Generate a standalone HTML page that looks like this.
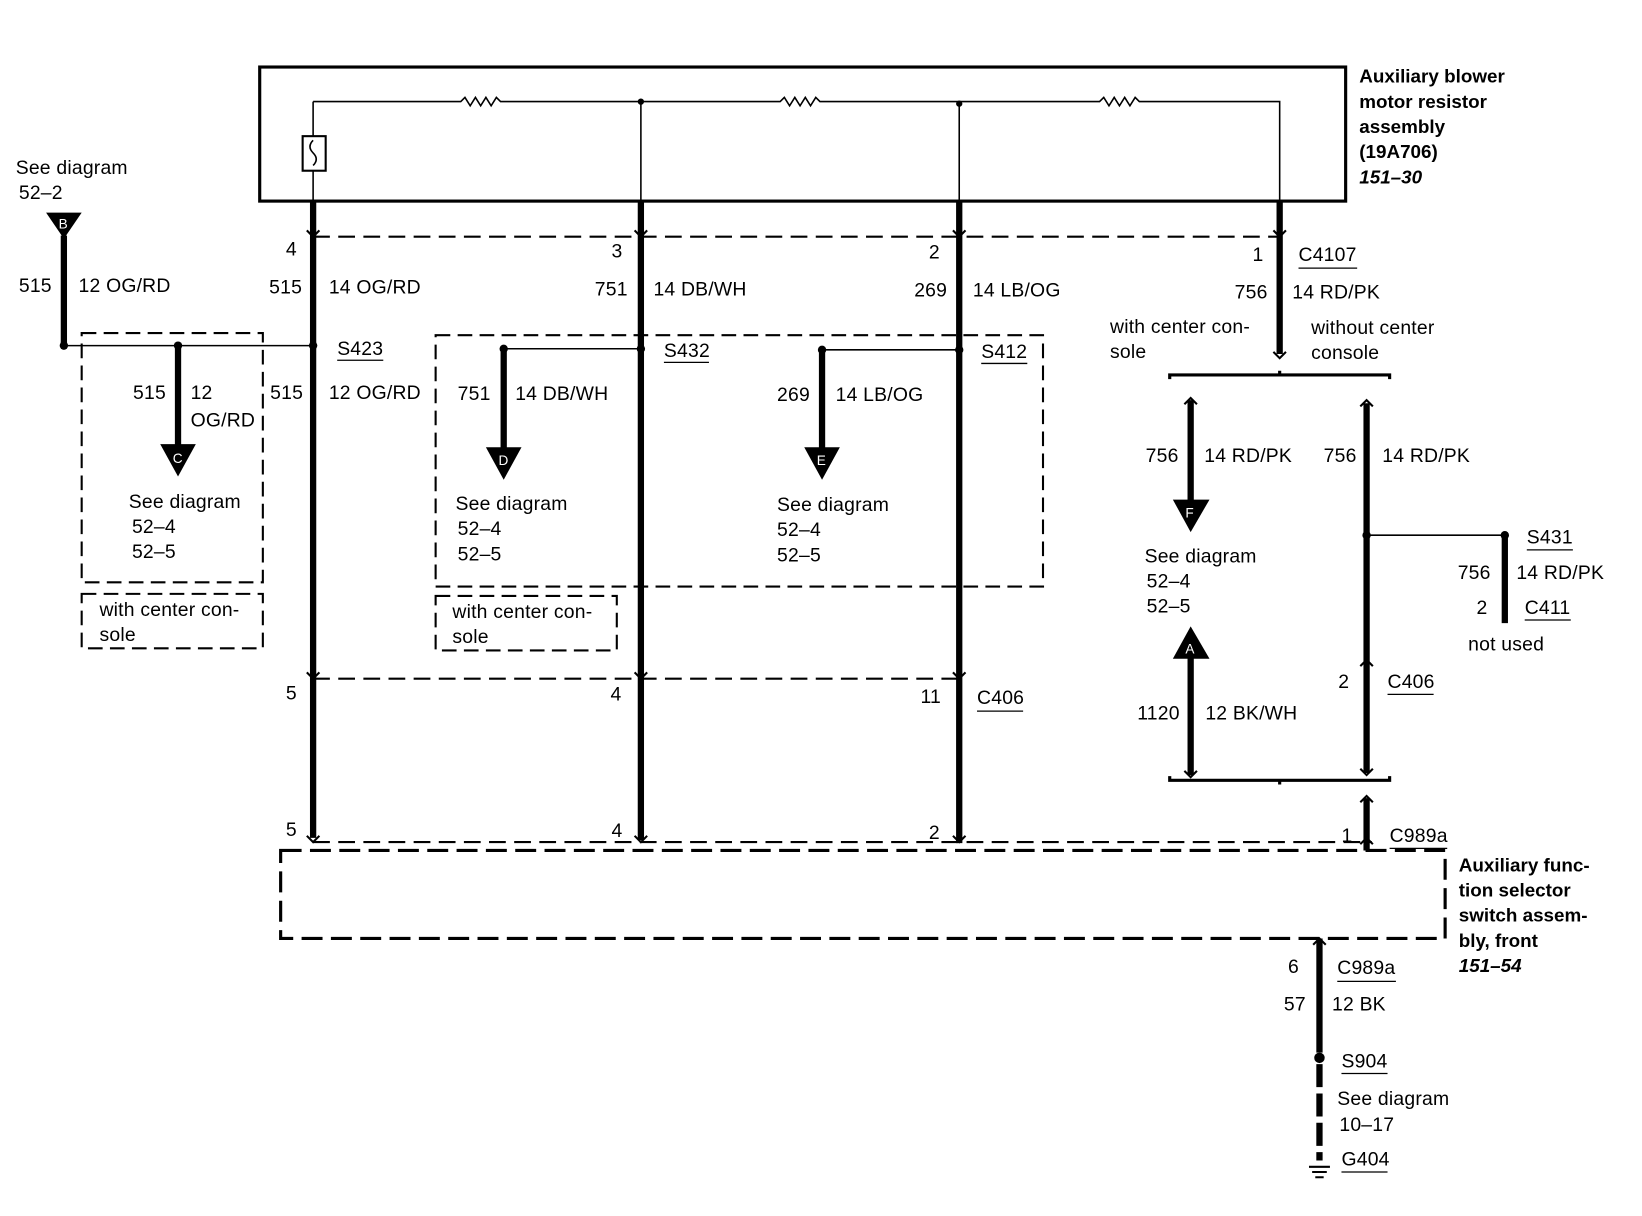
<!DOCTYPE html>
<html><head><meta charset="utf-8"><style>
html,body{margin:0;padding:0;background:#fff;}
svg{display:block;}
text{font-family:"Liberation Sans",sans-serif;font-size:18.5px;letter-spacing:0.2px;fill:#000;}
.b{font-weight:bold;font-size:18px;letter-spacing:0;}
.i{font-weight:bold;font-style:italic;font-size:18px;letter-spacing:0;}
</style></head><body>
<svg width="1642" height="1216" viewBox="0 0 1568 1161" preserveAspectRatio="none" xmlns="http://www.w3.org/2000/svg">
<g fill="none" stroke="#000">
<rect x="248" y="64" width="1037" height="128" stroke-width="3"/>
<path d="M299 97 H440 l4 -4 l5 8 l5 -8 l5 8 l5 -8 l5 8 l5 -8 l4 4 H745 l4 -4 l5 8 l5 -8 l5 8 l5 -8 l5 8 l5 -8 l4 4 H1050 l4 -4 l5 8 l5 -8 l5 8 l5 -8 l5 8 l5 -8 l4 4 H1222 V192" stroke-width="1.5"/>
<path d="M299 97 V130 M299 163 V192 M612 97 V192 M916 97 V192" stroke-width="1.5"/>
<rect x="289" y="130" width="22" height="33" stroke-width="2"/>
<path d="M299 134 q-6 6 0 12 q6 6 0 12" stroke-width="1.5"/>
<path d="M299 192 V800 M612 192 V802 M916 192 V805 M1222 192 V338 M61 225 V330 M170 330 V426 M481 333 V428 M785 334 V428 M1137 382 V478 M1137 628 V740 M1305 385 V738 M1437 511 V595 M1305 762 V812 M1260 896 V1005" stroke-width="6"/>
<path d="M1260 1016 V1108" stroke-width="6" stroke-dasharray="22 6"/>
<path d="M61 330 H299 M481 333 H612 M785 334 H916 M1305 511 H1437" stroke-width="1.5"/>
<path d="M299 226 H1222 M299 648 H916 M299 804 H1310" stroke-width="2" stroke-dasharray="16 8"/>
<rect x="78" y="318" width="173" height="238" stroke-width="2" stroke-dasharray="14 7"/>
<rect x="78" y="567" width="173" height="52" stroke-width="2" stroke-dasharray="14 7"/>
<rect x="416" y="320" width="580" height="240" stroke-width="2" stroke-dasharray="14 7"/>
<rect x="416" y="569" width="173" height="52" stroke-width="2" stroke-dasharray="14 7"/>
<rect x="268" y="812" width="1112" height="84" stroke-width="3" stroke-dasharray="20 8"/>
<path d="M1117 362 V358 H1327 V362 M1222 358 V354" stroke-width="3"/>
<path d="M1117 741 V745 H1327 V741 M1222 745 V749" stroke-width="3"/>
<path d="M293 220 l6 6 l6 -6 M606 220 l6 6 l6 -6 M910 220 l6 6 l6 -6 M1216 220 l6 6 l6 -6 M1216 336 l6 6 l6 -6 M293 642 l6 6 l6 -6 M606 642 l6 6 l6 -6 M910 642 l6 6 l6 -6 M293 798 l6 6 l6 -6 M606 798 l6 6 l6 -6 M910 798 l6 6 l6 -6 M1299 806 l6 -6 l6 6 M1131 386 l6 -6 l6 6 M1299 388 l6 -6 l6 6 M1131 736 l6 6 l6 -6 M1299 734 l6 6 l6 -6 M1299 636 l6 -6 l6 6 M1299 766 l6 -6 l6 6 M1254 902 l6 -6 l6 6" stroke-width="2"/>
<path d="M1250 1114 H1270 M1253 1119 H1267 M1256 1124 H1264" stroke-width="2"/>
</g>
<g fill="#000">
<circle cx="612" cy="97" r="3"/><circle cx="916" cy="99" r="3"/>
<circle cx="61" cy="330" r="4"/><circle cx="299" cy="330" r="4"/><circle cx="170" cy="330" r="4"/>
<circle cx="481" cy="333" r="4"/><circle cx="612" cy="333" r="4"/><circle cx="785" cy="334" r="4"/><circle cx="916" cy="334" r="4"/>
<circle cx="1305" cy="511" r="4"/><circle cx="1437" cy="511" r="4"/><circle cx="1260" cy="1010" r="5"/>
<polygon points="44,203 78,203 61,228"/>
<polygon points="153,424 187,424 170,455"/>
<polygon points="464,427 498,427 481,458"/>
<polygon points="768,427 802,427 785,458"/>
<polygon points="1120,477 1155,477 1137,508"/>
<polygon points="1120,629 1155,629 1137,598"/>
</g>
<text x="56" y="218" style="font-size:13px;fill:#fff">B</text>
<text x="165" y="442" style="font-size:13px;fill:#fff">C</text>
<text x="476" y="444" style="font-size:13px;fill:#fff">D</text>
<text x="780" y="444" style="font-size:13px;fill:#fff">E</text>
<text x="1132" y="494" style="font-size:13px;fill:#fff">F</text>
<text x="1132" y="624" style="font-size:13px;fill:#fff">A</text>

<text class="b" x="1298" y="79">Auxiliary blower</text>
<text class="b" x="1298" y="103">motor resistor</text>
<text class="b" x="1298" y="127">assembly</text>
<text class="b" x="1298" y="151">(19A706)</text>
<text class="i" x="1298" y="175">151–30</text>

<text x="15" y="166">See diagram</text><text x="18" y="190">52–2</text>
<text x="18" y="279">515</text><text x="75" y="279">12 OG/RD</text>
<text x="273" y="244">4</text><text x="257" y="280">515</text><text x="314" y="280">14 OG/RD</text>
<text x="584" y="246">3</text><text x="568" y="282">751</text><text x="624" y="282">14 DB/WH</text>
<text x="887" y="247">2</text><text x="873" y="283">269</text><text x="929" y="283">14 LB/OG</text>
<text x="1196" y="249">1</text><text x="1240" y="249">C4107</text>
<text x="1179" y="285">756</text><text x="1234" y="285">14 RD/PK</text>
<text x="1060" y="318">with center con-</text><text x="1060" y="342">sole</text>
<text x="1252" y="319">without center</text><text x="1252" y="343">console</text>

<text x="322" y="339">S423</text>
<text x="127" y="381">515</text><text x="182" y="381">12</text><text x="182" y="407">OG/RD</text>
<text x="258" y="381">515</text><text x="314" y="381">12 OG/RD</text>
<text x="123" y="485">See diagram</text><text x="126" y="509">52–4</text><text x="126" y="533">52–5</text>
<text x="95" y="588">with center con-</text><text x="95" y="612">sole</text>

<text x="634" y="341">S432</text><text x="937" y="342">S412</text>
<text x="437" y="382">751</text><text x="492" y="382">14 DB/WH</text>
<text x="742" y="383">269</text><text x="798" y="383">14 LB/OG</text>
<text x="435" y="487">See diagram</text><text x="437" y="511">52–4</text><text x="437" y="535">52–5</text>
<text x="742" y="488">See diagram</text><text x="742" y="512">52–4</text><text x="742" y="536">52–5</text>
<text x="432" y="590">with center con-</text><text x="432" y="614">sole</text>

<text x="273" y="668">5</text><text x="583" y="669">4</text><text x="879" y="671">11</text><text x="933" y="672">C406</text>
<text x="273" y="798">5</text><text x="584" y="799">4</text><text x="887" y="801">2</text><text x="1281" y="804">1</text><text x="1327" y="804">C989a</text>

<text x="1094" y="441">756</text><text x="1150" y="441">14 RD/PK</text>
<text x="1264" y="441">756</text><text x="1320" y="441">14 RD/PK</text>
<text x="1093" y="537">See diagram</text><text x="1095" y="561">52–4</text><text x="1095" y="585">52–5</text>
<text x="1086" y="687">1120</text><text x="1151" y="687">12 BK/WH</text>
<text x="1458" y="519">S431</text>
<text x="1392" y="553">756</text><text x="1448" y="553">14 RD/PK</text>
<text x="1410" y="586">2</text><text x="1456" y="586">C411</text>
<text x="1402" y="621">not used</text>
<text x="1278" y="657">2</text><text x="1325" y="657">C406</text>

<text class="b" x="1393" y="832">Auxiliary func-</text>
<text class="b" x="1393" y="856">tion selector</text>
<text class="b" x="1393" y="880">switch assem-</text>
<text class="b" x="1393" y="904">bly, front</text>
<text class="i" x="1393" y="928">151–54</text>

<text x="1230" y="929">6</text><text x="1277" y="930">C989a</text>
<text x="1226" y="965">57</text><text x="1272" y="965">12 BK</text>
<text x="1281" y="1019">S904</text>
<text x="1277" y="1055">See diagram</text><text x="1279" y="1080">10–17</text>
<text x="1281" y="1113">G404</text>

<g stroke="#000" stroke-width="1.2">
<path d="M1240 256 H1296 M322 344 H366 M634 346 H677 M937 347 H981 M933 679 H977 M1327 810 H1382 M1458 525 H1502 M1456 592 H1500 M1325 663 H1369 M1277 937 H1333 M1281 1025 H1325 M1281 1119 H1325"/>
</g>
</svg>
</body></html>
